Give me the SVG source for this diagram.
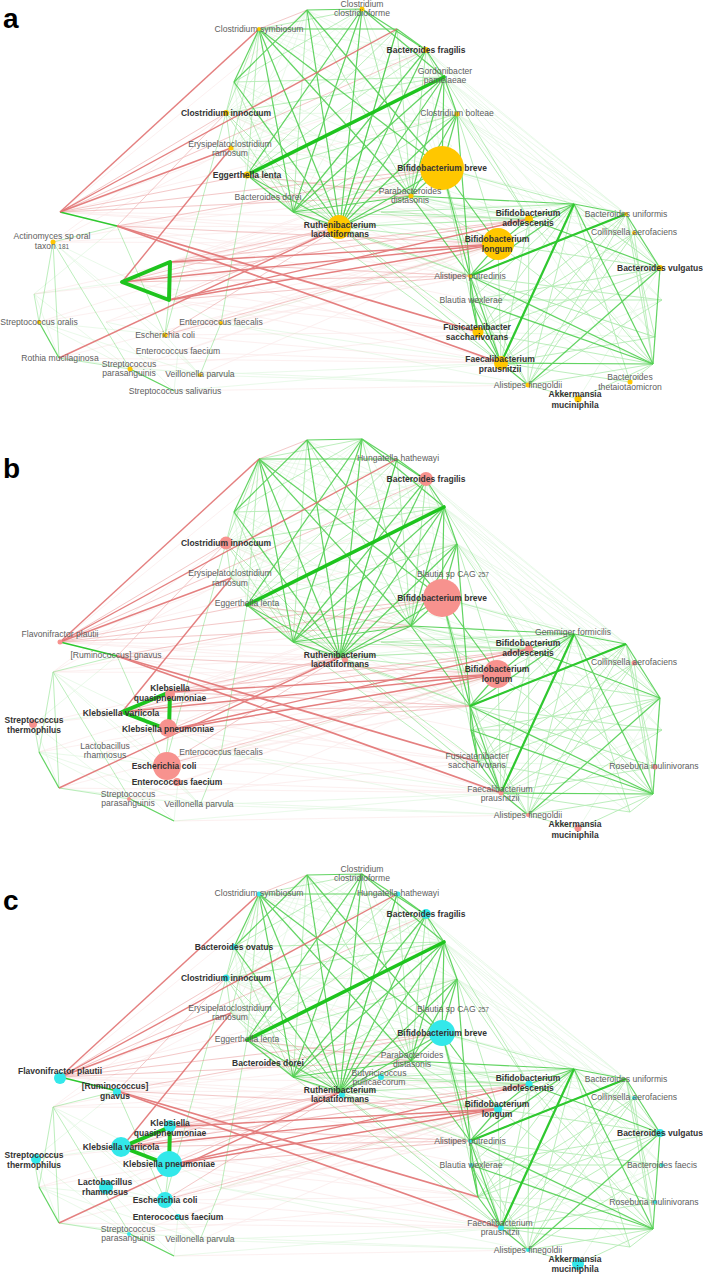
<svg xmlns="http://www.w3.org/2000/svg" xmlns:xlink="http://www.w3.org/1999/xlink" width="703" height="1274" viewBox="0 0 703 1274">
<style>
.g1{stroke:#1ec41e;stroke-width:3.6;stroke-linecap:round;fill:none}
.gm{stroke:#2fc82f;stroke-width:2.2}
.g2{stroke:#3cca3c;stroke-width:1.2;opacity:.8}
.g3{stroke:#5cd65c;stroke-width:.9;opacity:.45}
.g4{stroke:#7ade7a;stroke-width:.7;opacity:.22}
.r1{stroke:#e06a6a;stroke-width:1.4;opacity:.85}
.r2{stroke:#e68686;stroke-width:.9;opacity:.5}
.r3{stroke:#f0a0a0;stroke-width:.7;opacity:.22}
.n{font-family:"Liberation Sans",Arial,sans-serif;font-size:8.6px;fill:#5e5e5e;text-anchor:middle}
.b{font-weight:bold;font-size:8.5px;fill:#333}
.s{font-size:6.5px}
.ya{fill:#ffc700}
.pb{fill:#f7928e}
.cy{fill:#33e8ea}
.lt{font-family:"Liberation Sans",Arial,sans-serif;font-size:28px;font-weight:bold;fill:#000}
</style>
<defs>
<g id="net">
<g class="g4">
<line x1="259" y1="29" x2="457" y2="114"/><line x1="259" y1="29" x2="444" y2="77"/><line x1="259" y1="29" x2="426" y2="50"/>
<line x1="307" y1="10" x2="444" y2="77"/><line x1="307" y1="10" x2="457" y2="114"/><line x1="307" y1="10" x2="247" y2="175"/>
<line x1="307" y1="10" x2="226" y2="113"/><line x1="307" y1="10" x2="231" y2="148"/><line x1="362" y1="9" x2="411" y2="196"/>
<line x1="362" y1="9" x2="442" y2="168"/><line x1="362" y1="9" x2="226" y2="113"/><line x1="362" y1="9" x2="231" y2="148"/>
<line x1="397" y1="29" x2="442" y2="168"/><line x1="397" y1="29" x2="226" y2="113"/><line x1="397" y1="29" x2="231" y2="148"/>
<line x1="397" y1="29" x2="293" y2="212"/><line x1="426" y1="50" x2="411" y2="196"/><line x1="426" y1="50" x2="442" y2="168"/>
<line x1="426" y1="50" x2="226" y2="113"/><line x1="426" y1="50" x2="231" y2="148"/><line x1="444" y1="77" x2="231" y2="148"/>
<line x1="457" y1="114" x2="226" y2="113"/><line x1="457" y1="114" x2="231" y2="148"/><line x1="234" y1="82" x2="247" y2="175"/>
<line x1="234" y1="82" x2="442" y2="168"/><line x1="234" y1="82" x2="411" y2="196"/><line x1="226" y1="113" x2="411" y2="196"/>
<line x1="226" y1="113" x2="442" y2="168"/><line x1="231" y1="148" x2="411" y2="196"/><line x1="231" y1="148" x2="442" y2="168"/>
<line x1="247" y1="175" x2="411" y2="196"/><line x1="247" y1="175" x2="442" y2="168"/><line x1="452" y1="146" x2="259" y2="29"/>
<line x1="452" y1="146" x2="340" y2="227"/><line x1="444" y1="77" x2="626" y2="214"/><line x1="444" y1="77" x2="634" y2="233"/>
<line x1="444" y1="77" x2="660" y2="268"/><line x1="444" y1="77" x2="662" y2="300"/><line x1="444" y1="77" x2="655" y2="337"/>
<line x1="457" y1="114" x2="626" y2="214"/><line x1="457" y1="114" x2="634" y2="233"/><line x1="457" y1="114" x2="660" y2="268"/>
<line x1="457" y1="114" x2="662" y2="300"/><line x1="457" y1="114" x2="655" y2="337"/><line x1="457" y1="114" x2="653" y2="364"/>
<line x1="426" y1="50" x2="660" y2="268"/><line x1="426" y1="50" x2="626" y2="214"/><line x1="397" y1="29" x2="626" y2="214"/>
<line x1="442" y1="168" x2="626" y2="214"/><line x1="442" y1="168" x2="634" y2="233"/><line x1="411" y1="196" x2="634" y2="233"/>
<line x1="411" y1="196" x2="660" y2="268"/><line x1="340" y1="227" x2="574" y2="204"/><line x1="340" y1="227" x2="626" y2="214"/>
<line x1="340" y1="227" x2="528" y2="385"/><line x1="340" y1="227" x2="653" y2="364"/><line x1="293" y1="212" x2="498" y2="244"/>
<line x1="293" y1="212" x2="574" y2="204"/><line x1="247" y1="175" x2="529" y2="219"/><line x1="247" y1="175" x2="498" y2="244"/>
<line x1="226" y1="113" x2="529" y2="219"/><line x1="231" y1="148" x2="470" y2="276"/>
<line x1="53" y1="242" x2="165" y2="335"/><line x1="53" y1="242" x2="221" y2="323"/><line x1="53" y1="242" x2="200" y2="375"/>
<line x1="39" y1="322" x2="165" y2="335"/><line x1="39" y1="322" x2="200" y2="375"/><line x1="39" y1="322" x2="174" y2="391"/>
<line x1="59" y1="358" x2="200" y2="375"/><line x1="34" y1="294" x2="130" y2="369"/><line x1="34" y1="294" x2="117" y2="226"/>
<line x1="34" y1="294" x2="122" y2="282"/><line x1="106" y1="322" x2="165" y2="335"/><line x1="106" y1="322" x2="174" y2="391"/>
<line x1="165" y1="335" x2="200" y2="375"/><line x1="178" y1="352" x2="200" y2="375"/><line x1="178" y1="352" x2="174" y2="391"/>
<line x1="174" y1="391" x2="501" y2="363"/><line x1="200" y1="375" x2="528" y2="385"/><line x1="130" y1="369" x2="528" y2="385"/>
<line x1="200" y1="375" x2="501" y2="363"/><line x1="221" y1="323" x2="528" y2="385"/><line x1="221" y1="323" x2="501" y2="363"/>
<line x1="221" y1="323" x2="498" y2="244"/><line x1="35" y1="295" x2="59" y2="358"/><line x1="578" y1="399" x2="660" y2="268"/>
<line x1="630" y1="382" x2="470" y2="276"/><line x1="655" y1="337" x2="478" y2="332"/><line x1="655" y1="337" x2="470" y2="276"/>
<line x1="529" y1="219" x2="630" y2="382"/><line x1="662" y1="300" x2="574" y2="204"/><line x1="662" y1="300" x2="501" y2="363"/>
</g>
<g class="r3">
<line x1="60" y1="212" x2="444" y2="77"/><line x1="60" y1="212" x2="457" y2="114"/><line x1="60" y1="212" x2="340" y2="227"/>
<line x1="60" y1="212" x2="498" y2="244"/><line x1="60" y1="212" x2="529" y2="219"/><line x1="117" y1="226" x2="340" y2="227"/>
<line x1="117" y1="226" x2="411" y2="196"/><line x1="117" y1="226" x2="470" y2="276"/><line x1="117" y1="226" x2="471" y2="300"/>
<line x1="122" y1="282" x2="442" y2="168"/><line x1="122" y1="282" x2="411" y2="196"/><line x1="170" y1="262" x2="442" y2="168"/>
<line x1="170" y1="262" x2="411" y2="196"/><line x1="169" y1="300" x2="411" y2="196"/><line x1="169" y1="300" x2="478" y2="332"/>
<line x1="169" y1="300" x2="501" y2="363"/><line x1="165" y1="335" x2="478" y2="332"/><line x1="165" y1="335" x2="501" y2="363"/>
<line x1="165" y1="335" x2="470" y2="276"/><line x1="178" y1="352" x2="498" y2="244"/><line x1="178" y1="352" x2="501" y2="363"/>
<line x1="221" y1="323" x2="498" y2="244"/><line x1="221" y1="323" x2="529" y2="219"/><line x1="221" y1="323" x2="470" y2="276"/>
<line x1="200" y1="375" x2="498" y2="244"/><line x1="174" y1="391" x2="528" y2="385"/><line x1="130" y1="369" x2="478" y2="332"/>
<line x1="130" y1="369" x2="498" y2="244"/><line x1="59" y1="358" x2="498" y2="244"/><line x1="59" y1="358" x2="501" y2="363"/>
<line x1="34" y1="294" x2="498" y2="244"/><line x1="34" y1="294" x2="340" y2="227"/><line x1="39" y1="322" x2="340" y2="227"/>
<line x1="39" y1="322" x2="498" y2="244"/><line x1="53" y1="242" x2="340" y2="227"/><line x1="53" y1="242" x2="498" y2="244"/>
<line x1="53" y1="242" x2="442" y2="168"/><line x1="53" y1="242" x2="231" y2="148"/><line x1="53" y1="242" x2="226" y2="113"/>
<line x1="106" y1="322" x2="498" y2="244"/><line x1="106" y1="322" x2="340" y2="227"/><line x1="247" y1="175" x2="498" y2="244"/>
<line x1="247" y1="175" x2="470" y2="276"/><line x1="247" y1="175" x2="478" y2="332"/><line x1="231" y1="148" x2="498" y2="244"/>
<line x1="226" y1="113" x2="498" y2="244"/><line x1="60" y1="212" x2="307" y2="10"/><line x1="122" y1="282" x2="529" y2="219"/>
<line x1="165" y1="335" x2="529" y2="219"/><line x1="170" y1="262" x2="501" y2="363"/><line x1="122" y1="282" x2="478" y2="332"/>
</g>
<g class="g3">
<line x1="259" y1="29" x2="247" y2="175"/><line x1="307" y1="10" x2="411" y2="196"/><line x1="362" y1="9" x2="259" y2="29"/>
<line x1="397" y1="29" x2="411" y2="196"/><line x1="397" y1="29" x2="247" y2="175"/><line x1="426" y1="50" x2="457" y2="114"/>
<line x1="426" y1="50" x2="247" y2="175"/><line x1="444" y1="77" x2="226" y2="113"/><line x1="444" y1="77" x2="234" y2="82"/>
<line x1="457" y1="114" x2="293" y2="212"/><line x1="457" y1="114" x2="247" y2="175"/><line x1="442" y1="168" x2="293" y2="212"/>
<line x1="231" y1="148" x2="293" y2="212"/><line x1="226" y1="113" x2="293" y2="212"/><line x1="234" y1="82" x2="293" y2="212"/>
<line x1="362" y1="9" x2="234" y2="82"/><line x1="226" y1="113" x2="340" y2="227"/><line x1="231" y1="148" x2="340" y2="227"/>
<line x1="226" y1="113" x2="231" y2="148"/><line x1="234" y1="82" x2="226" y2="113"/><line x1="259" y1="29" x2="226" y2="113"/>
<line x1="259" y1="29" x2="231" y2="148"/><line x1="307" y1="10" x2="293" y2="212"/><line x1="362" y1="9" x2="411" y2="196"/>
<line x1="397" y1="29" x2="340" y2="227"/><line x1="426" y1="50" x2="411" y2="196"/>
<line x1="411" y1="196" x2="529" y2="219"/><line x1="411" y1="196" x2="498" y2="244"/><line x1="340" y1="227" x2="529" y2="219"/>
<line x1="340" y1="227" x2="470" y2="276"/><line x1="340" y1="227" x2="498" y2="244"/><line x1="340" y1="227" x2="501" y2="363"/>
<line x1="340" y1="227" x2="478" y2="332"/><line x1="442" y1="168" x2="501" y2="363"/><line x1="442" y1="168" x2="478" y2="332"/>
<line x1="457" y1="114" x2="498" y2="244"/><line x1="444" y1="77" x2="529" y2="219"/><line x1="293" y1="212" x2="470" y2="276"/>
<line x1="293" y1="212" x2="529" y2="219"/><line x1="293" y1="212" x2="501" y2="363"/><line x1="381" y1="212" x2="529" y2="219"/>
<line x1="381" y1="212" x2="574" y2="204"/><line x1="442" y1="168" x2="574" y2="204"/><line x1="457" y1="114" x2="529" y2="219"/>
<line x1="470" y1="276" x2="528" y2="385"/><line x1="498" y1="244" x2="501" y2="363"/><line x1="626" y1="214" x2="653" y2="364"/>
<line x1="653" y1="364" x2="630" y2="382"/><line x1="653" y1="364" x2="578" y2="399"/><line x1="528" y1="385" x2="578" y2="399"/>
<line x1="574" y1="204" x2="630" y2="382"/><line x1="574" y1="204" x2="660" y2="268"/><line x1="529" y1="219" x2="653" y2="364"/>
<line x1="626" y1="214" x2="528" y2="385"/><line x1="626" y1="214" x2="478" y2="332"/><line x1="634" y1="233" x2="478" y2="332"/>
<line x1="634" y1="233" x2="528" y2="385"/><line x1="660" y1="268" x2="478" y2="332"/><line x1="660" y1="268" x2="471" y2="300"/>
<line x1="471" y1="300" x2="662" y2="300"/><line x1="470" y1="276" x2="662" y2="300"/><line x1="470" y1="276" x2="655" y2="337"/>
<line x1="478" y1="332" x2="653" y2="364"/><line x1="501" y1="363" x2="626" y2="214"/><line x1="501" y1="363" x2="634" y2="233"/>
<line x1="501" y1="363" x2="660" y2="268"/><line x1="528" y1="385" x2="653" y2="364"/><line x1="498" y1="244" x2="653" y2="364"/>
<line x1="498" y1="244" x2="660" y2="268"/><line x1="529" y1="219" x2="528" y2="385"/><line x1="574" y1="204" x2="528" y2="385"/>
<line x1="574" y1="204" x2="478" y2="332"/><line x1="626" y1="214" x2="634" y2="233"/><line x1="634" y1="233" x2="660" y2="268"/>
<line x1="498" y1="244" x2="574" y2="204"/><line x1="529" y1="219" x2="501" y2="363"/><line x1="471" y1="300" x2="528" y2="385"/>
<line x1="471" y1="300" x2="574" y2="204"/><line x1="634" y1="233" x2="653" y2="364"/><line x1="662" y1="300" x2="528" y2="385"/>
<line x1="655" y1="337" x2="501" y2="363"/><line x1="655" y1="337" x2="626" y2="214"/><line x1="630" y1="382" x2="501" y2="363"/>
<line x1="53" y1="242" x2="39" y2="322"/><line x1="53" y1="242" x2="59" y2="358"/><line x1="53" y1="242" x2="130" y2="369"/>
<line x1="59" y1="358" x2="130" y2="369"/><line x1="117" y1="226" x2="165" y2="335"/><line x1="165" y1="335" x2="226" y2="113"/>
<line x1="221" y1="323" x2="200" y2="375"/><line x1="53" y1="242" x2="117" y2="226"/><line x1="169" y1="300" x2="165" y2="335"/>
<line x1="221" y1="323" x2="247" y2="175"/><line x1="34" y1="294" x2="39" y2="322"/>
</g>
<g class="r2">
<line x1="122" y1="282" x2="340" y2="227"/><line x1="170" y1="262" x2="529" y2="219"/><line x1="169" y1="300" x2="340" y2="227"/>
<line x1="60" y1="212" x2="226" y2="113"/><line x1="60" y1="212" x2="247" y2="175"/><line x1="117" y1="226" x2="442" y2="168"/>
<line x1="165" y1="335" x2="498" y2="244"/><line x1="60" y1="212" x2="411" y2="196"/><line x1="170" y1="262" x2="470" y2="276"/>
<line x1="169" y1="300" x2="470" y2="276"/><line x1="122" y1="282" x2="470" y2="276"/><line x1="122" y1="282" x2="529" y2="219"/>
<line x1="60" y1="212" x2="442" y2="168"/><line x1="259" y1="29" x2="307" y2="10"/><line x1="117" y1="226" x2="226" y2="113"/>
<line x1="170" y1="262" x2="340" y2="227"/><line x1="60" y1="212" x2="426" y2="50"/><line x1="117" y1="226" x2="498" y2="244"/>
<line x1="165" y1="335" x2="340" y2="227"/><line x1="247" y1="175" x2="411" y2="196"/>
</g>
<g class="g2">
<line x1="259" y1="29" x2="397" y2="29"/><line x1="259" y1="29" x2="234" y2="82"/><line x1="259" y1="29" x2="411" y2="196"/>
<line x1="259" y1="29" x2="340" y2="227"/><line x1="259" y1="29" x2="293" y2="212"/><line x1="259" y1="29" x2="442" y2="168"/>
<line x1="307" y1="10" x2="362" y2="9"/><line x1="307" y1="10" x2="442" y2="168"/><line x1="307" y1="10" x2="340" y2="227"/>
<line x1="307" y1="10" x2="234" y2="82"/><line x1="362" y1="9" x2="426" y2="50"/><line x1="362" y1="9" x2="444" y2="77"/>
<line x1="362" y1="9" x2="340" y2="227"/><line x1="362" y1="9" x2="247" y2="175"/><line x1="362" y1="9" x2="293" y2="212"/>
<line x1="397" y1="29" x2="426" y2="50"/><line x1="397" y1="29" x2="340" y2="227"/><line x1="426" y1="50" x2="444" y2="77"/>
<line x1="426" y1="50" x2="340" y2="227"/><line x1="426" y1="50" x2="293" y2="212"/><line x1="444" y1="77" x2="457" y2="114"/>
<line x1="444" y1="77" x2="411" y2="196"/><line x1="444" y1="77" x2="340" y2="227"/><line x1="444" y1="77" x2="293" y2="212"/>
<line x1="444" y1="77" x2="442" y2="168"/><line x1="457" y1="114" x2="442" y2="168"/><line x1="457" y1="114" x2="411" y2="196"/>
<line x1="457" y1="114" x2="340" y2="227"/><line x1="442" y1="168" x2="411" y2="196"/><line x1="442" y1="168" x2="340" y2="227"/>
<line x1="411" y1="196" x2="340" y2="227"/><line x1="411" y1="196" x2="293" y2="212"/><line x1="340" y1="227" x2="293" y2="212"/>
<line x1="247" y1="175" x2="293" y2="212"/><line x1="234" y1="82" x2="340" y2="227"/><line x1="247" y1="175" x2="340" y2="227"/>
<line x1="442" y1="168" x2="498" y2="244"/><line x1="411" y1="196" x2="574" y2="204"/><line x1="411" y1="196" x2="470" y2="276"/>
<line x1="442" y1="168" x2="470" y2="276"/><line x1="457" y1="114" x2="470" y2="276"/>
<line x1="574" y1="204" x2="626" y2="214"/><line x1="626" y1="214" x2="660" y2="268"/><line x1="660" y1="268" x2="653" y2="364"/>
<line x1="574" y1="204" x2="653" y2="364"/><line x1="470" y1="276" x2="653" y2="364"/><line x1="529" y1="219" x2="660" y2="268"/>
<line x1="660" y1="268" x2="528" y2="385"/><line x1="501" y1="363" x2="653" y2="364"/><line x1="470" y1="276" x2="501" y2="363"/>
<line x1="470" y1="276" x2="478" y2="332"/><line x1="471" y1="300" x2="501" y2="363"/><line x1="478" y1="332" x2="501" y2="363"/>
<line x1="574" y1="204" x2="470" y2="276"/><line x1="498" y1="244" x2="529" y2="219"/><line x1="529" y1="219" x2="574" y2="204"/>
<line x1="498" y1="244" x2="470" y2="276"/><line x1="501" y1="363" x2="528" y2="385"/><line x1="471" y1="300" x2="653" y2="364"/>
<line x1="470" y1="276" x2="471" y2="300"/><line x1="471" y1="300" x2="478" y2="332"/><line x1="470" y1="276" x2="626" y2="214"/>
<line x1="39" y1="322" x2="59" y2="358"/><line x1="130" y1="369" x2="174" y2="391"/>
</g>
<g class="gm">
<line x1="574" y1="204" x2="501" y2="363"/><line x1="470" y1="276" x2="626" y2="214"/>
</g>
<line class="gm" x1="60" y1="212" x2="117" y2="226" style="stroke-width:1.6"/>
<g class="r1">
<line x1="60" y1="212" x2="259" y2="29"/><line x1="60" y1="212" x2="397" y2="29"/><line x1="60" y1="212" x2="231" y2="148"/>
<line x1="122" y1="282" x2="231" y2="148"/><line x1="117" y1="226" x2="478" y2="332" style="stroke-width:1.8"/><line x1="117" y1="226" x2="501" y2="363" style="stroke-width:1.8"/>
<line x1="122" y1="282" x2="498" y2="244"/><line x1="169" y1="300" x2="529" y2="219"/><line x1="59" y1="358" x2="340" y2="227"/>
<line x1="170" y1="262" x2="498" y2="244"/><line x1="169" y1="300" x2="498" y2="244"/>
</g>
<line class="g1" x1="247" y1="175" x2="444" y2="77"/>
<path class="g1" d="M122 282 L170 262 L169 300 Z" style="stroke-width:4;stroke-linejoin:round"/>
</g>
</defs>
<g id="connectors">
<use xlink:href="#net" href="#net"/>
<use xlink:href="#net" href="#net" y="430"/>
<use xlink:href="#net" href="#net" y="865"/>
</g>
<g id="panel-labels">
<text class="lt" x="3" y="28">a</text>
<text class="lt" x="3" y="478">b</text>
<text class="lt" x="3" y="910">c</text>
</g>
<g id="panel-a">
<g class="ya">
<circle cx="259" cy="29" r="2"/><circle cx="362" cy="9" r="2.5"/><circle cx="426" cy="50" r="3"/><circle cx="457" cy="114" r="2.5"/>
<circle cx="226" cy="113" r="3"/><circle cx="231" cy="148" r="2.5"/><circle cx="247" cy="175" r="3.5"/><circle cx="442" cy="168" r="22"/>
<circle cx="411" cy="196" r="2.5"/><circle cx="339" cy="227" r="12"/><circle cx="529" cy="219" r="4"/><circle cx="498" cy="244" r="16"/>
<circle cx="626" cy="214" r="2"/><circle cx="634" cy="233" r="2"/><circle cx="660" cy="268" r="3"/><circle cx="470" cy="276" r="2"/>
<circle cx="478" cy="332" r="5.5"/><circle cx="501" cy="363" r="7"/><circle cx="528" cy="385" r="2.5"/><circle cx="630" cy="382" r="2.5"/>
<circle cx="578" cy="399" r="3.5"/><circle cx="53" cy="242" r="2.5"/><circle cx="39" cy="322" r="2"/><circle cx="165" cy="335" r="2.5"/>
<circle cx="221" cy="323" r="2"/><circle cx="130" cy="369" r="2.5"/><circle cx="200" cy="375" r="2"/>
</g>
<g id="a-clostridium-symbiosum"><text class="n" x="259" y="32">Clostridium symbiosum</text></g>
<g id="a-clostridium-clostridioforme"><text class="n" x="362" y="7">Clostridium</text><text class="n" x="362" y="16">clostridioforme</text></g>
<g id="a-bacteroides-fragilis"><text class="n b" x="426" y="53">Bacteroides fragilis</text></g>
<g id="a-gordonibacter"><text class="n" x="445" y="74">Gordonibacter</text><text class="n" x="445" y="83">pamelaeae</text></g>
<g id="a-clostridium-bolteae"><text class="n" x="457" y="116">Clostridium bolteae</text></g>
<g id="a-clostridium-innocuum"><text class="n b" x="226" y="116">Clostridium innocuum</text></g>
<g id="a-erysipelato"><text class="n" x="230" y="147">Erysipelatoclostridium</text><text class="n" x="230" y="156">ramosum</text></g>
<g id="a-bif-breve"><text class="n b" x="442" y="171">Bifidobacterium breve</text></g>
<g id="a-eggerthella"><text class="n b" x="247" y="178">Eggerthella lenta</text></g>
<g id="a-parabacteroides"><text class="n" x="410" y="194">Parabacteroides</text><text class="n" x="410" y="203">distasonis</text></g>
<g id="a-bacteroides-dorei"><text class="n" x="268" y="200">Bacteroides dorei</text></g>
<g id="a-ruthenibacterium"><text class="n b" x="340" y="228">Ruthenibacterium</text><text class="n b" x="340" y="237">lactatiformans</text></g>
<g id="a-actinomyces"><text class="n" x="52" y="239">Actinomyces sp oral</text><text class="n" x="52" y="249">taxon <tspan class="s">181</tspan></text></g>
<g id="a-bif-adolescentis"><text class="n b" x="528" y="216">Bifidobacterium</text><text class="n b" x="528" y="226">adolescentis</text></g>
<g id="a-bif-longum"><text class="n b" x="497" y="242">Bifidobacterium</text><text class="n b" x="497" y="252">longum</text></g>
<g id="a-bacteroides-uniformis"><text class="n" x="626" y="217">Bacteroides uniformis</text></g>
<g id="a-collinsella"><text class="n" x="634" y="235">Collinsella aerofaciens</text></g>
<g id="a-bacteroides-vulgatus"><text class="n b" x="660" y="271">Bacteroides vulgatus</text></g>
<g id="a-alistipes-putredinis"><text class="n" x="470" y="279">Alistipes putredinis</text></g>
<g id="a-blautia-wexlerae"><text class="n" x="471" y="303">Blautia wexlerae</text></g>
<g id="a-fusicatenibacter"><text class="n b" x="477" y="330">Fusicatenibacter</text><text class="n b" x="477" y="340">saccharivorans</text></g>
<g id="a-faecalibacterium"><text class="n b" x="500" y="362">Faecalibacterium</text><text class="n b" x="500" y="372">prausnitzii</text></g>
<g id="a-alistipes-finegoldii"><text class="n" x="528" y="388">Alistipes finegoldii</text></g>
<g id="a-bacteroides-theta"><text class="n" x="630" y="380">Bacteroides</text><text class="n" x="630" y="390">thetaiotaomicron</text></g>
<g id="a-akkermansia"><text class="n b" x="575" y="397">Akkermansia</text><text class="n b" x="575" y="408">muciniphila</text></g>
<g id="a-strep-oralis"><text class="n" x="39" y="325">Streptococcus oralis</text></g>
<g id="a-enterococcus-faecalis"><text class="n" x="221" y="325">Enterococcus faecalis</text></g>
<g id="a-escherichia"><text class="n" x="165" y="338">Escherichia coli</text></g>
<g id="a-enterococcus-faecium"><text class="n" x="178" y="354">Enterococcus faecium</text></g>
<g id="a-rothia"><text class="n" x="60" y="361">Rothia mucilaginosa</text></g>
<g id="a-strep-parasanguinis"><text class="n" x="129" y="367">Streptococcus</text><text class="n" x="129" y="376">parasanguinis</text></g>
<g id="a-veillonella"><text class="n" x="200" y="377">Veillonella parvula</text></g>
<g id="a-strep-salivarius"><text class="n" x="175" y="394">Streptococcus salivarius</text></g>
</g>
<g id="panel-b" transform="translate(0,430)">
<g class="pb">
<circle cx="226" cy="113" r="6.5"/><circle cx="426" cy="49" r="7"/><circle cx="442" cy="168" r="19"/><circle cx="497" cy="244" r="14"/>
<circle cx="529" cy="219" r="4"/><circle cx="634" cy="233" r="2.5"/><circle cx="655" cy="337" r="2.5"/><circle cx="501" cy="363" r="2.5"/>
<circle cx="528" cy="385" r="2"/><circle cx="578" cy="398" r="3.5"/><circle cx="60" cy="212" r="2.5"/><circle cx="170" cy="264" r="5"/>
<circle cx="121" cy="283" r="2"/><circle cx="168" cy="298" r="9"/><circle cx="167" cy="336" r="14"/><circle cx="177" cy="352" r="4"/>
<circle cx="33" cy="294" r="4"/><circle cx="129" cy="369" r="2"/><circle cx="345" cy="230" r="3"/>
</g>
<g id="b-hungatella"><text class="n" x="398" y="31">Hungatella hathewayi</text></g>
<g id="b-bacteroides-fragilis"><text class="n b" x="426" y="52">Bacteroides fragilis</text></g>
<g id="b-clostridium-innocuum"><text class="n b" x="226" y="116">Clostridium innocuum</text></g>
<g id="b-erysipelato"><text class="n" x="230" y="146">Erysipelatoclostridium</text><text class="n" x="230" y="156">ramosum</text></g>
<g id="b-eggerthella"><text class="n" x="247" y="176">Eggerthella lenta</text></g>
<g id="b-blautia-sp"><text class="n" x="453" y="147">Blautia sp CAG <tspan class="s">257</tspan></text></g>
<g id="b-bif-breve"><text class="n b" x="442" y="171">Bifidobacterium breve</text></g>
<g id="b-flavonifractor"><text class="n" x="60" y="207">Flavonifractor plautii</text></g>
<g id="b-ruminococcus"><text class="n" x="116" y="228">[Ruminococcus] gnavus</text></g>
<g id="b-ruthenibacterium"><text class="n b" x="340" y="228">Ruthenibacterium</text><text class="n b" x="340" y="237">lactatiformans</text></g>
<g id="b-gemmiger"><text class="n" x="573" y="205">Gemmiger formicilis</text></g>
<g id="b-bif-adolescentis"><text class="n b" x="528" y="216">Bifidobacterium</text><text class="n b" x="528" y="226">adolescentis</text></g>
<g id="b-collinsella"><text class="n" x="634" y="235">Collinsella aerofaciens</text></g>
<g id="b-bif-longum"><text class="n b" x="497" y="242">Bifidobacterium</text><text class="n b" x="497" y="252">longum</text></g>
<g id="b-klebsiella-quasi"><text class="n b" x="170" y="261">Klebsiella</text><text class="n b" x="170" y="271">quasipneumoniae</text></g>
<g id="b-klebsiella-variicola"><text class="n b" x="121" y="286">Klebsiella variicola</text></g>
<g id="b-strep-thermophilus"><text class="n b" x="34" y="293">Streptococcus</text><text class="n b" x="34" y="303">thermophilus</text></g>
<g id="b-klebsiella-pneumoniae"><text class="n b" x="168" y="302">Klebsiella pneumoniae</text></g>
<g id="b-lactobacillus"><text class="n" x="105" y="319">Lactobacillus</text><text class="n" x="105" y="328">rhamnosus</text></g>
<g id="b-enterococcus-faecalis"><text class="n" x="221" y="325">Enterococcus faecalis</text></g>
<g id="b-escherichia"><text class="n b" x="164" y="339">Escherichia coli</text></g>
<g id="b-enterococcus-faecium"><text class="n b" x="177" y="355">Enterococcus faecium</text></g>
<g id="b-strep-parasanguinis"><text class="n" x="128" y="367">Streptococcus</text><text class="n" x="128" y="376">parasanguinis</text></g>
<g id="b-veillonella"><text class="n" x="199" y="377">Veillonella parvula</text></g>
<g id="b-fusicatenibacter"><text class="n" x="477" y="329">Fusicatenibacter</text><text class="n" x="477" y="338">saccharivorans</text></g>
<g id="b-roseburia"><text class="n" x="654" y="339">Roseburia inulinivorans</text></g>
<g id="b-faecalibacterium"><text class="n" x="500" y="362">Faecalibacterium</text><text class="n" x="500" y="371">prausnitzii</text></g>
<g id="b-alistipes-finegoldii"><text class="n" x="528" y="388">Alistipes finegoldii</text></g>
<g id="b-akkermansia"><text class="n b" x="575" y="397">Akkermansia</text><text class="n b" x="575" y="408">muciniphila</text></g>
</g>
<g id="panel-c" transform="translate(0,865)">
<g class="cy">
<circle cx="259" cy="29" r="2.5"/><circle cx="398" cy="29" r="2.5"/><circle cx="426" cy="49" r="5"/><circle cx="234" cy="82" r="3"/>
<circle cx="226" cy="113" r="3.5"/><circle cx="442" cy="168" r="13"/><circle cx="381" cy="212" r="3"/><circle cx="342" cy="230" r="3"/>
<circle cx="529" cy="219" r="3.5"/><circle cx="498" cy="244" r="4"/><circle cx="634" cy="233" r="2"/><circle cx="660" cy="268" r="4"/>
<circle cx="470" cy="276" r="2"/><circle cx="471" cy="300" r="2"/><circle cx="662" cy="300" r="2"/><circle cx="655" cy="337" r="2"/>
<circle cx="501" cy="363" r="3"/><circle cx="528" cy="385" r="2"/><circle cx="578" cy="399" r="6"/><circle cx="60" cy="213" r="6"/>
<circle cx="117" cy="227" r="4"/><circle cx="170" cy="261" r="6"/><circle cx="121" cy="282" r="10"/><circle cx="169" cy="299" r="13"/>
<circle cx="36" cy="294" r="5"/><circle cx="106" cy="322" r="7"/><circle cx="165" cy="335" r="8"/><circle cx="178" cy="352" r="3"/>
<circle cx="129" cy="369" r="2"/>
</g>
<g id="c-clostridium-clostridioforme"><text class="n" x="362" y="7">Clostridium</text><text class="n" x="362" y="16">clostridioforme</text></g>
<g id="c-clostridium-symbiosum"><text class="n" x="259" y="31">Clostridium symbiosum</text></g>
<g id="c-hungatella"><text class="n" x="398" y="31">Hungatella hathewayi</text></g>
<g id="c-bacteroides-fragilis"><text class="n b" x="426" y="52">Bacteroides fragilis</text></g>
<g id="c-bacteroides-ovatus"><text class="n b" x="234" y="85">Bacteroides ovatus</text></g>
<g id="c-clostridium-innocuum"><text class="n b" x="226" y="116">Clostridium innocuum</text></g>
<g id="c-erysipelato"><text class="n" x="230" y="146">Erysipelatoclostridium</text><text class="n" x="230" y="155">ramosum</text></g>
<g id="c-eggerthella"><text class="n" x="247" y="177">Eggerthella lenta</text></g>
<g id="c-blautia-sp"><text class="n" x="453" y="147">Blautia sp CAG <tspan class="s">257</tspan></text></g>
<g id="c-bif-breve"><text class="n b" x="442" y="171">Bifidobacterium breve</text></g>
<g id="c-parabacteroides"><text class="n" x="412" y="193">Parabacteroides</text><text class="n" x="412" y="201.5">distasonis</text></g>
<g id="c-bacteroides-dorei"><text class="n b" x="268" y="201">Bacteroides dorei</text></g>
<g id="c-butyricicoccus"><text class="n" x="379" y="211">Butyricicoccus</text><text class="n" x="379" y="220">pullicaecorum</text></g>
<g id="c-ruthenibacterium"><text class="n b" x="340" y="228">Ruthenibacterium</text><text class="n b" x="340" y="237">lactatiformans</text></g>
<g id="c-flavonifractor"><text class="n b" x="60" y="209">Flavonifractor plautii</text></g>
<g id="c-ruminococcus"><text class="n b" x="115" y="224">[Ruminococcus]</text><text class="n b" x="115" y="234">gnavus</text></g>
<g id="c-bif-adolescentis"><text class="n b" x="528" y="216">Bifidobacterium</text><text class="n b" x="528" y="226">adolescentis</text></g>
<g id="c-bacteroides-uniformis"><text class="n" x="626" y="217">Bacteroides uniformis</text></g>
<g id="c-collinsella"><text class="n" x="634" y="235">Collinsella aerofaciens</text></g>
<g id="c-bif-longum"><text class="n b" x="497" y="242">Bifidobacterium</text><text class="n b" x="497" y="252">longum</text></g>
<g id="c-bacteroides-vulgatus"><text class="n b" x="660" y="271">Bacteroides vulgatus</text></g>
<g id="c-alistipes-putredinis"><text class="n" x="470" y="279">Alistipes putredinis</text></g>
<g id="c-blautia-wexlerae"><text class="n" x="471" y="303">Blautia wexlerae</text></g>
<g id="c-bacteroides-faecis"><text class="n" x="662" y="303">Bacteroides faecis</text></g>
<g id="c-roseburia"><text class="n" x="654" y="340">Roseburia inulinivorans</text></g>
<g id="c-faecalibacterium"><text class="n" x="500" y="361">Faecalibacterium</text><text class="n" x="500" y="370">prausnitzii</text></g>
<g id="c-alistipes-finegoldii"><text class="n" x="528" y="388">Alistipes finegoldii</text></g>
<g id="c-akkermansia"><text class="n b" x="575" y="397">Akkermansia</text><text class="n b" x="575" y="407">muciniphila</text></g>
<g id="c-klebsiella-quasi"><text class="n b" x="170" y="261">Klebsiella</text><text class="n b" x="170" y="271">quasipneumoniae</text></g>
<g id="c-klebsiella-variicola"><text class="n b" x="121" y="285">Klebsiella variicola</text></g>
<g id="c-strep-thermophilus"><text class="n b" x="34" y="293">Streptococcus</text><text class="n b" x="34" y="303">thermophilus</text></g>
<g id="c-klebsiella-pneumoniae"><text class="n b" x="169" y="302">Klebsiella pneumoniae</text></g>
<g id="c-lactobacillus"><text class="n b" x="105" y="320">Lactobacillus</text><text class="n b" x="105" y="330">rhamnosus</text></g>
<g id="c-escherichia"><text class="n b" x="165" y="338">Escherichia coli</text></g>
<g id="c-enterococcus-faecium"><text class="n b" x="178" y="355">Enterococcus faecium</text></g>
<g id="c-strep-parasanguinis"><text class="n" x="128" y="367">Streptococcus</text><text class="n" x="128" y="376">parasanguinis</text></g>
<g id="c-veillonella"><text class="n" x="200" y="377">Veillonella parvula</text></g>
</g>
</svg>
